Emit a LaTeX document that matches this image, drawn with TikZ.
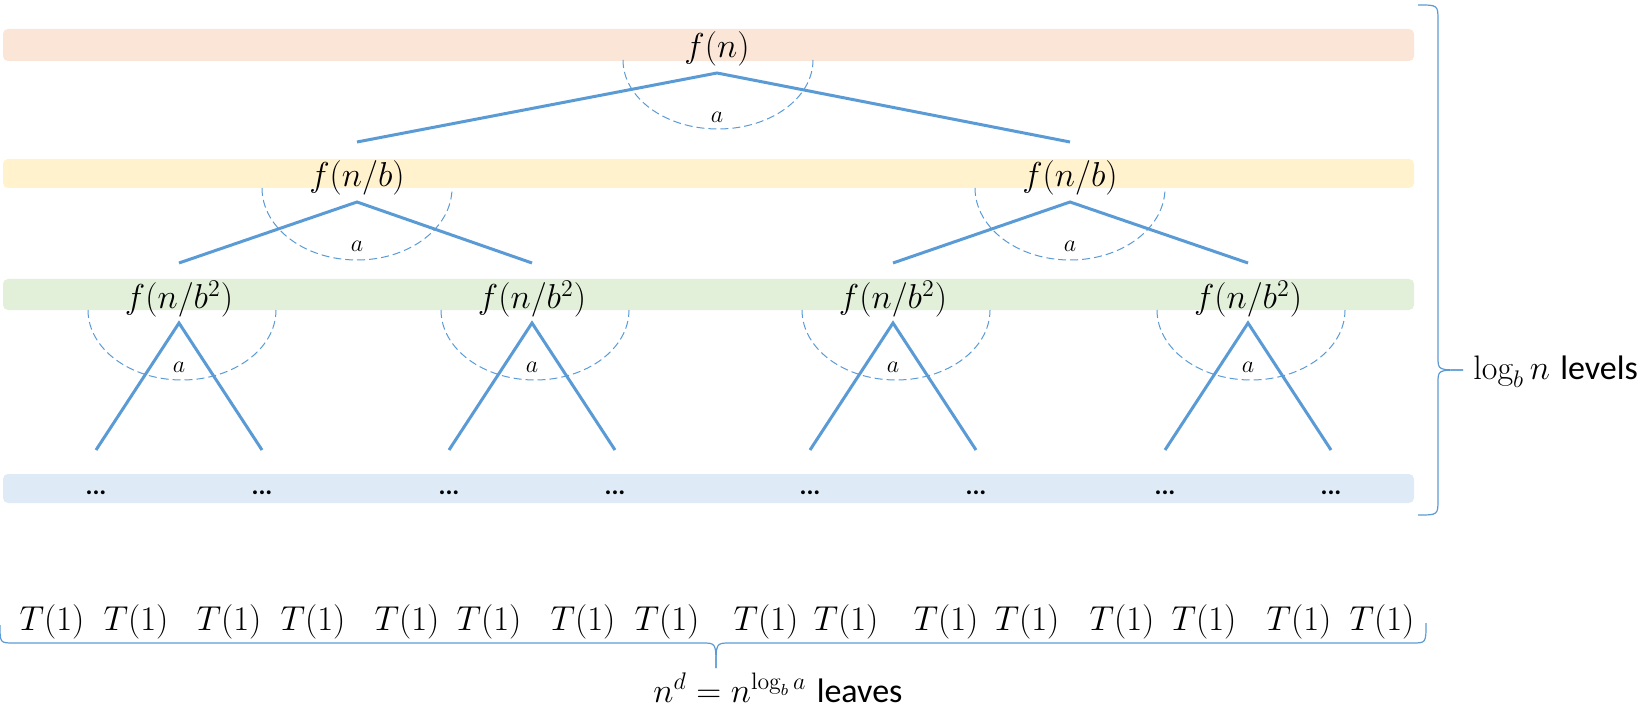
\documentclass[tikz,border=0pt]{standalone}
\usepackage{amsmath}
\usepackage{fontspec}
\newfontfamily\calib{Carlito}
\usepackage{xcolor}
\usepackage{tikz}
\usetikzlibrary{positioning}
\definecolor{lineblue}{HTML}{5B9BD5}
\definecolor{bandorange}{HTML}{FBE5D6}
\definecolor{bandyellow}{HTML}{FFF2CC}
\definecolor{bandgreen}{HTML}{E2F0D9}
\definecolor{bandblue}{HTML}{DEEBF7}

\begin{document}
\begin{tikzpicture}[x=0.5pt, y=0.5pt,
      band/.style={rounded corners=2.5pt},
      lbl/.style={inner sep=0pt, anchor=base,
                  font=\fontsize{18}{21}\selectfont},
      alab/.style={inner sep=0pt, font=\fontsize{13}{15}\selectfont},
      dots/.style={inner sep=0pt, anchor=base,
                   font=\calib\fontsize{13}{15}\selectfont\bfseries},
      txt/.style={inner sep=0pt, anchor=base west,
                  font=\fontsize{17}{20}\selectfont},
      edge/.style={line width=1.5pt, color=lineblue},
      fan/.style={dash pattern=on 4pt off 2pt, line width=0.5pt, color=lineblue},
      brace/.style={line width=0.6pt, color=lineblue}
  ]
    \useasboundingbox (0,0) rectangle (1652,713);
    \fill[band, bandorange] (3,652) rectangle (1414,684);
    \fill[band, bandyellow] (3,525) rectangle (1414,554);
    \fill[band, bandgreen]  (3,403) rectangle (1414,434);
    \fill[band, bandblue]   (3,210) rectangle (1414,239);

    \node[lbl] (r) at (717,655) {$f(n)$};
    \coordinate (rtop) at (717,640);
    \draw[fan] (623,653) arc[start angle=180, end angle=360, x radius=47.5pt, y radius=34.5pt];
    \node[alab] (ra) at (717,596) {$a$};

    \node[lbl] (p) at (357,526)  {$f(n/b)$};
    \node[lbl] (q) at (1070,526) {$f(n/b)$};
    \coordinate (pin)  at (357,571);
    \coordinate (qin)  at (1070,571);
    \coordinate (ptop) at (357,511);
    \coordinate (qtop) at (1070,511);
    \draw[edge] (pin) -- (rtop) -- (qin);
    \draw[fan] (262,525) arc[start angle=180, end angle=360, x radius=47.5pt, y radius=36pt];
    \draw[fan] (975,525) arc[start angle=180, end angle=360, x radius=47.5pt, y radius=36pt];
    \node[alab] (pa) at (357,467)  {$a$};
    \node[alab] (qa) at (1070,467) {$a$};

    \foreach \x/\nm in {179/s1, 532/s2, 893/s3, 1248/s4}{
      \node[lbl] (\nm) at (\x,404) {$f(n/b^2)$};
      \coordinate (\nm in)  at (\x,450);
      \coordinate (\nm top) at (\x,390);
      \coordinate (\nm L) at (\x-83,263);
      \coordinate (\nm R) at (\x+83,263);
      \draw[edge] (\nm L) -- (\nm top) -- (\nm R);
      \draw[fan] (\x-91,403) arc[start angle=180, end angle=360, x radius=47pt, y radius=35pt];
      \node[alab] (\nm a) at (\x,346) {$a$};
      \node[dots] (\nm dl) at (\x-83,219) {...};
      \node[dots] (\nm dr) at (\x+83,219) {...};
    }
    \draw[edge] (s1in) -- (ptop) -- (s2in);
    \draw[edge] (s3in) -- (qtop) -- (s4in);

    \foreach \x [count=\i] in {52,136,229,313,407,489,583,667,766,846,946,1027,1122,1204,1299,1382}
      \node[lbl] (t\i) at (\x,83) {$T(1)$};

    \draw[brace] (1418,708) .. controls (1438,708) .. (1438,692) -- (1438,356)
      .. controls (1438,343) .. (1463,343);
    \draw[brace] (1463,343) .. controls (1438,343) .. (1438,330) -- (1438,214)
      .. controls (1438,198) .. (1418,198);
    \node[txt] (levels) at (1473,334) {$\log_b n$ {\calib levels}};

    \draw[brace] (0,88) .. controls (0,70) .. (14,70) -- (702,70)
      .. controls (716,70) .. (716,45);
    \draw[brace] (716,45) .. controls (716,70) .. (730,70) -- (1412,70)
      .. controls (1426,70) .. (1426,90);
    \node[txt] (leaves) at (653,11) {$n^d = n^{\log_b a}$ {\calib leaves}};
  \end{tikzpicture}
\end{document}
